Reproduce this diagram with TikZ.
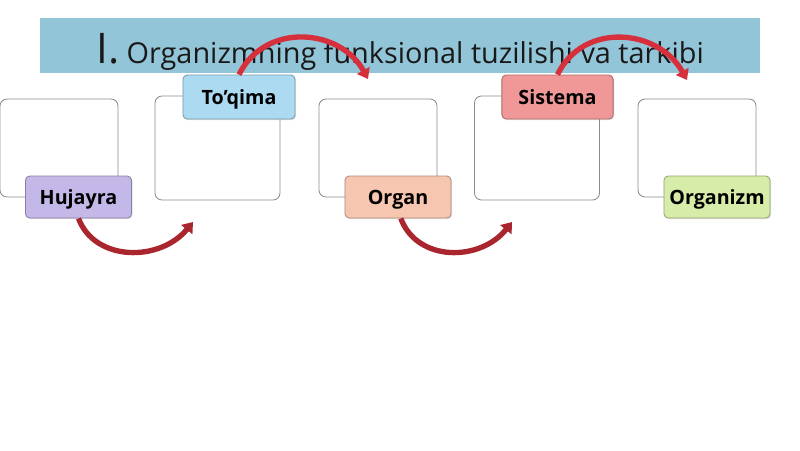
\documentclass[tikz,border=0pt]{standalone}
\usepackage{fontspec}
\setmainfont{Open Sans}
\usetikzlibrary{arrows.meta,shadows}
\definecolor{banner}{RGB}{146,197,216}
\definecolor{arrowtop}{RGB}{214,48,60}
\definecolor{arrowbot}{RGB}{170,38,46}
% label colours: edge / middle
\definecolor{hujA}{RGB}{196,184,232}
\definecolor{hujB}{RGB}{232,227,248}
\definecolor{toqA}{RGB}{172,218,240}
\definecolor{toqB}{RGB}{226,244,252}
\definecolor{orgA}{RGB}{246,198,176}
\definecolor{orgB}{RGB}{254,236,228}
\definecolor{sisA}{RGB}{240,152,152}
\definecolor{sisB}{RGB}{252,212,212}
\definecolor{ozmA}{RGB}{214,236,168}
\definecolor{ozmB}{RGB}{243,250,228}
\tikzset{
  box/.style={draw=black!45, line width=0.6pt, fill=white, rounded corners=5pt, minimum width=2.95cm, minimum height=2.45cm},
  bigbox/.style={box, minimum width=3.125cm, minimum height=2.6cm},
  tag/.style 2 args={draw=#1!70!black, line width=0.6pt, rounded corners=3pt, top color=#1, middle color=#2, bottom color=#1, font=\bfseries\fontsize{14}{16}\selectfont, text height=10pt, text depth=0pt, minimum width=2.65cm, minimum height=1.05cm, inner sep=0pt, drop shadow={opacity=0.25, shadow xshift=0.8pt, shadow yshift=-0.8pt}},
  link/.style={line width=3.8pt, -{Triangle[width=10pt,length=7pt]}}
}
\begin{document}
\begin{tikzpicture}[x=0.025cm, y=-0.025cm]
      \useasboundingbox (0,0) rectangle (800,450);
      % title
      \fill[banner] (40,18) rectangle (760,73);
      \node[anchor=base, text=black!90] (title) at (400,63){\fontsize{30}{30}\selectfont I.\fontsize{20.5}{24}\selectfont\ Organizmning funksional tuzilishi va tarkibi};

      \node[box] (b1) at (59,148){};
      \node[bigbox] (b2) at (217.5,148){};
      \node[box] (b3) at (378,148){};
      \node[bigbox] (b4) at (537,148){};
      \node[box] (b5) at (697,148){};

      \coordinate (e1) at (193,222);
      \coordinate (e2) at (368,79);
      \coordinate (e3) at (512,222);
      \coordinate (e4) at (687,80);

      \node[tag={hujA}{hujB}] (huj) at (78.5,197){Hujayra};
      \node[tag={toqA}{toqB}, minimum width=2.8cm, minimum height=1.1cm] (toq) at (239,97){To’qima};
      \node[tag={orgA}{orgB}] (org) at (398,197){Organ};
      \node[tag={sisA}{sisB}, minimum width=2.78cm, minimum height=1.1cm] (sis) at (557.5,97){Sistema};
      \node[tag={ozmA}{ozmB}] (ozm) at (717,197){Organizm};

      \draw[link, arrowbot] (huj.south) .. controls (95,262) and (160,262) .. (e1);
      \draw[link, arrowtop] (toq.north) .. controls (265,22) and (340,28) .. (e2);
      \draw[link, arrowbot] ([xshift=2]org.south) .. controls (417,262) and (480,262) .. (e3);
      \draw[link, arrowtop] (sis.north) .. controls (583,22) and (658,28) .. (e4);
    \end{tikzpicture}
\end{document}
